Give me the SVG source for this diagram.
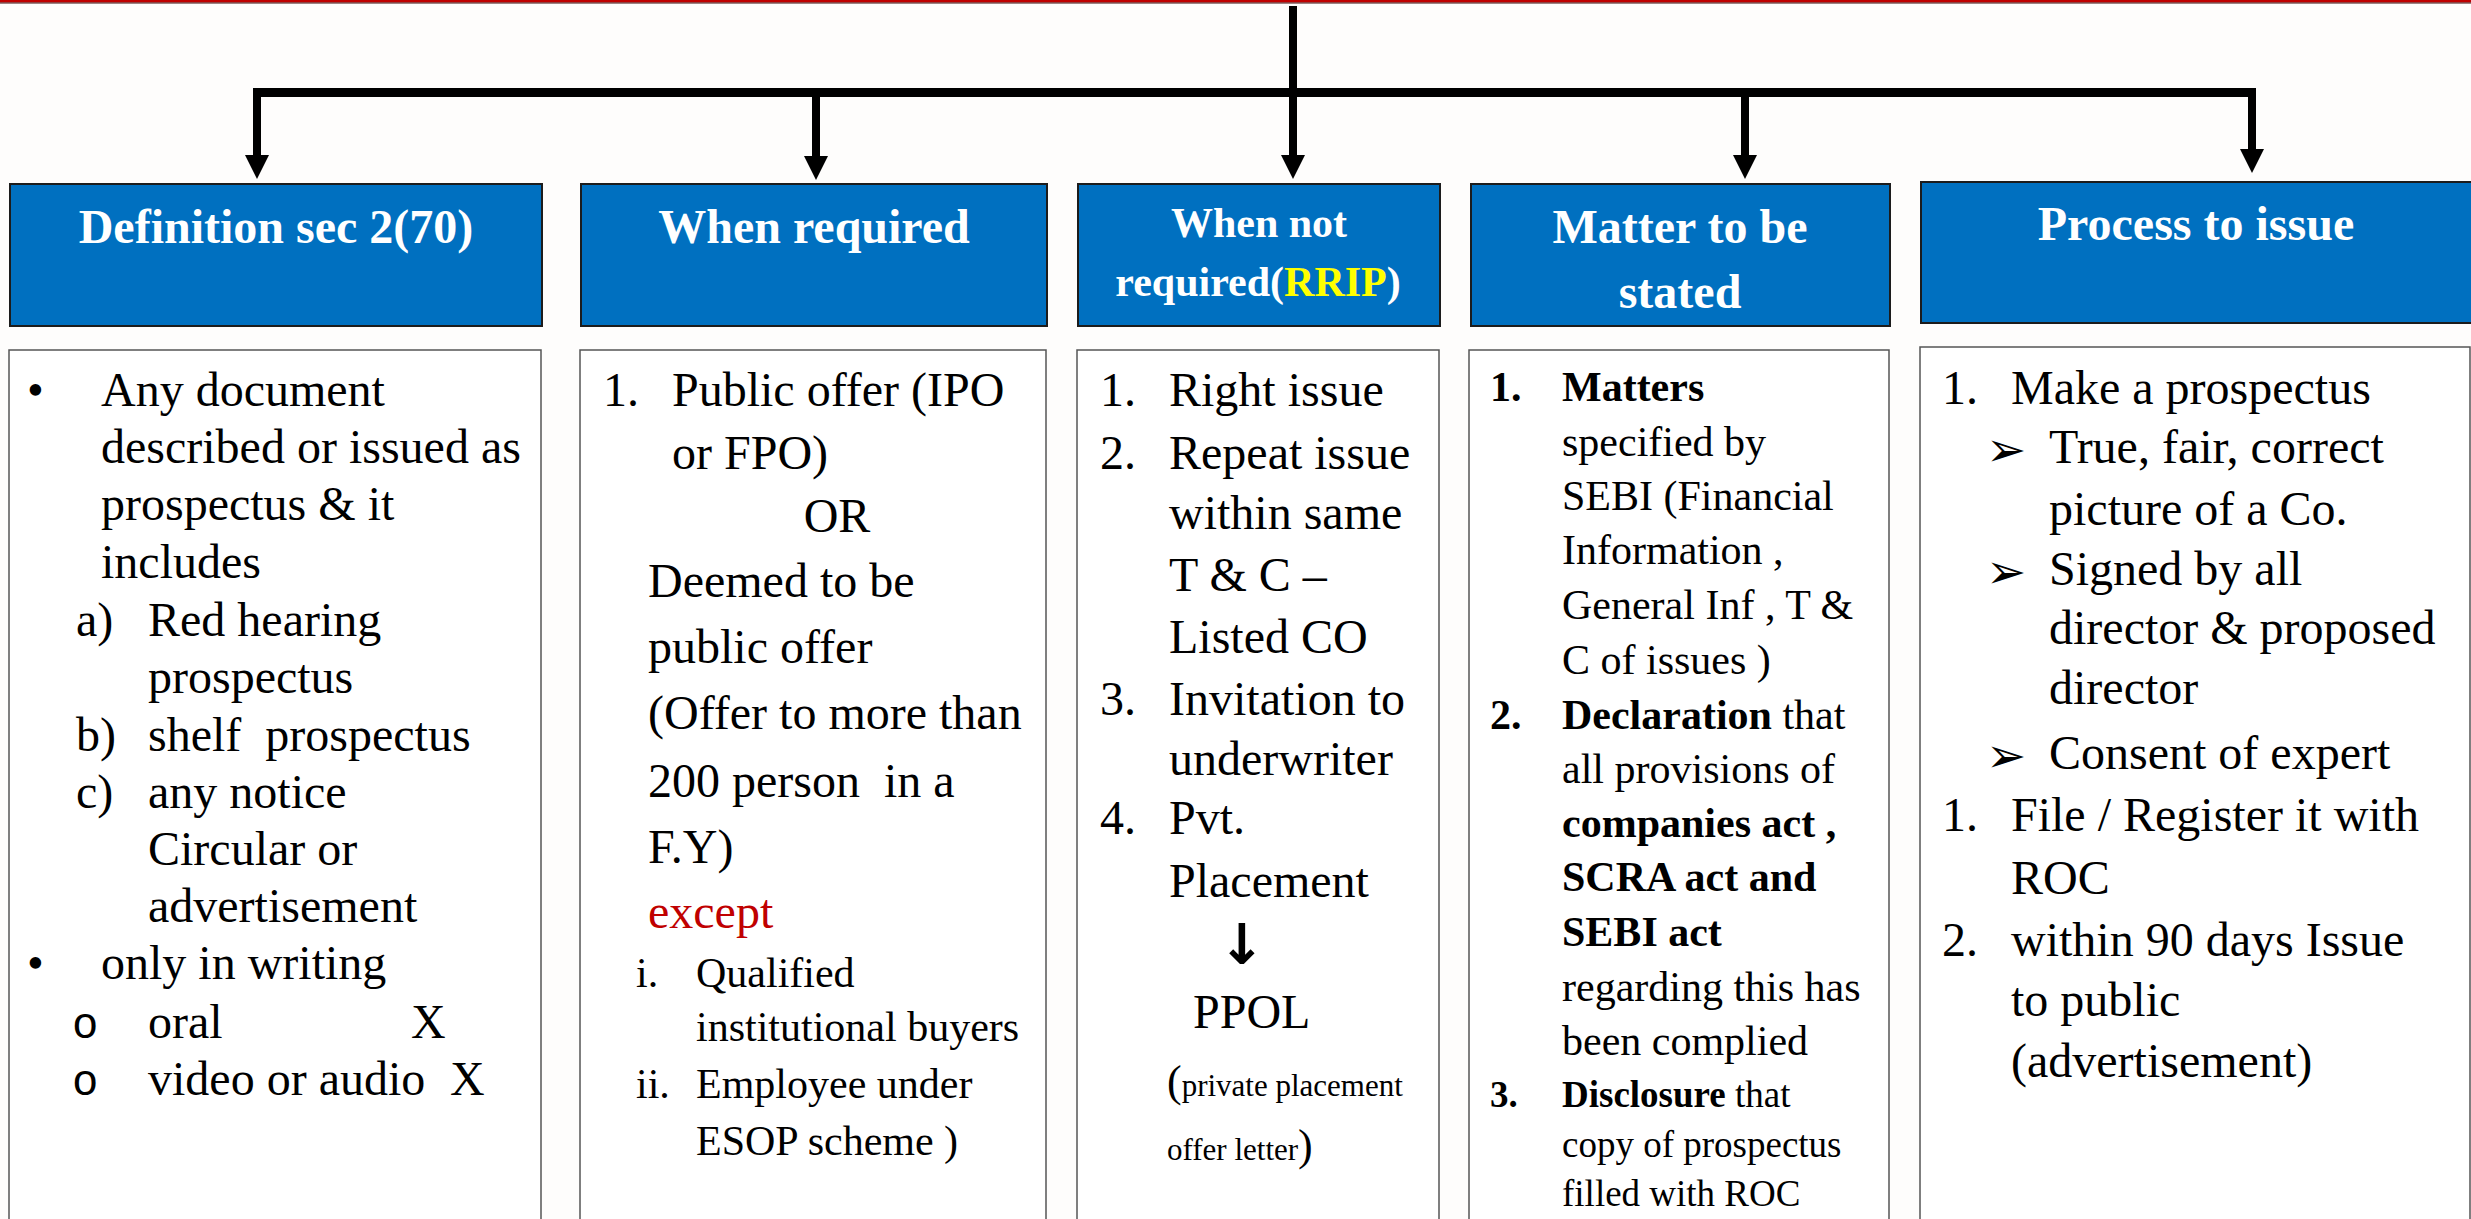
<svg xmlns="http://www.w3.org/2000/svg" width="2471" height="1219" viewBox="0 0 2471 1219">
  <style>
    .hdr { fill: #0070C0; stroke: #1c1c1c; stroke-width: 2; }
    .body { fill: #ffffff; stroke: #555555; stroke-width: 1.5; }
    .ht { font-family: "Liberation Serif", "Times New Roman", serif; font-weight: bold; font-size: 48px; fill: #ffffff; text-anchor: middle; }
    .ht42 { font-size: 42px; }
    .t { font-family: "Liberation Serif", "Times New Roman", serif; font-size: 48px; fill: #000000; }
    .s42 { font-size: 42px; }
    .s37 { font-size: 37px; }
    .s31 { font-size: 31px; }
    .b { font-weight: bold; }
    .red { fill: #C00000; }
    .yel { fill: #FFFF00; }
    .circ { font-family: "Liberation Mono", "Courier New", monospace; font-size: 44px; fill: #000000; }
    .arw { font-family: "DejaVu Sans", sans-serif; font-size: 48px; fill: #000000; }
    .down { font-family: "DejaVu Sans", sans-serif; font-weight: bold; font-size: 56px; fill: #000000; text-anchor: middle; }
    .conn { stroke: #000000; fill: none; }
  </style>
  <defs>
    <marker id="head" markerUnits="userSpaceOnUse" markerWidth="24" markerHeight="24" refX="0" refY="12" orient="auto">
      <path d="M0,0 L24,12 L0,24 z" fill="#000000"/>
    </marker>
  </defs>

  <!-- page -->
  <rect x="0" y="0" width="2471" height="1219" fill="#FEFDFC"/>
  <rect x="0" y="0" width="2471" height="2.5" fill="#C00000"/>
  <rect x="0" y="2.5" width="2471" height="1" fill="#3a0a0a"/>

  <!-- connectors -->
  <g id="connectors" class="conn">
    <path d="M1293,6 V155" stroke-width="8" marker-end="url(#head)"/>
    <path d="M253,92.5 H2256" stroke-width="9"/>
    <path d="M257,88 V155" stroke-width="8" marker-end="url(#head)"/>
    <path d="M816,92 V156" stroke-width="8" marker-end="url(#head)"/>
    <path d="M1745,92 V155" stroke-width="8" marker-end="url(#head)"/>
    <path d="M2252,88 V149" stroke-width="8" marker-end="url(#head)"/>
  </g>

  <!-- Definition -->
  <g id="definition">
    <rect class="hdr" x="10" y="184" width="532" height="142"/>
    <text class="ht" x="276" y="243">Definition sec 2(70)</text>
    <rect class="body" x="9" y="350" width="532" height="880"/>
    <text class="t" x="27" y="406">•</text>
    <text class="t" x="101" y="406">Any document</text>
    <text class="t" x="101" y="463">described or issued as</text>
    <text class="t" x="101" y="520">prospectus &amp; it</text>
    <text class="t" x="101" y="578">includes</text>
    <text class="t" x="76" y="636">a)</text>
    <text class="t" x="148" y="636">Red hearing</text>
    <text class="t" x="148" y="693">prospectus</text>
    <text class="t" x="76" y="751">b)</text>
    <text class="t" x="148" y="751" xml:space="preserve">shelf  prospectus</text>
    <text class="t" x="76" y="808">c)</text>
    <text class="t" x="148" y="808">any notice</text>
    <text class="t" x="148" y="865">Circular or</text>
    <text class="t" x="148" y="922">advertisement</text>
    <text class="t" x="27" y="979">•</text>
    <text class="t" x="101" y="979">only in writing</text>
    <text class="circ" x="72" y="1038">o</text>
    <text class="t" x="148" y="1038">oral</text>
    <text class="t" x="411" y="1038">X</text>
    <text class="circ" x="72" y="1095">o</text>
    <text class="t" x="148" y="1095">video or audio</text>
    <text class="t" x="450" y="1095">X</text>
  </g>

  <!-- When required -->
  <g id="when-required">
    <rect class="hdr" x="581" y="184" width="466" height="142"/>
    <text class="ht" x="814" y="243">When required</text>
    <rect class="body" x="580" y="350" width="466" height="880"/>
    <text class="t" x="603" y="406">1.</text>
    <text class="t" x="672" y="406">Public offer (IPO</text>
    <text class="t" x="672" y="469">or FPO)</text>
    <text class="t" x="837" y="532" text-anchor="middle">OR</text>
    <text class="t" x="648" y="597">Deemed to be</text>
    <text class="t" x="648" y="663">public offer</text>
    <text class="t" x="648" y="729">(Offer to more than</text>
    <text class="t" x="648" y="797" xml:space="preserve">200 person  in a</text>
    <text class="t" x="648" y="863">F.Y)</text>
    <text class="t red" x="648" y="928">except</text>
    <text class="t s42" x="636" y="987">i.</text>
    <text class="t s42" x="696" y="987">Qualified</text>
    <text class="t s42" x="696" y="1041">institutional buyers</text>
    <text class="t s42" x="636" y="1098">ii.</text>
    <text class="t s42" x="696" y="1098">Employee under</text>
    <text class="t s42" x="696" y="1155">ESOP scheme )</text>
  </g>

  <!-- When not required -->
  <g id="when-not-required">
    <rect class="hdr" x="1078" y="184" width="362" height="142"/>
    <text class="ht ht42" x="1259" y="237">When not</text>
    <text class="ht ht42" x="1258" y="296">required(<tspan class="yel">RRIP</tspan>)</text>
    <rect class="body" x="1077" y="350" width="362" height="880"/>
    <text class="t" x="1100" y="406">1.</text>
    <text class="t" x="1169" y="406">Right issue</text>
    <text class="t" x="1100" y="469">2.</text>
    <text class="t" x="1169" y="469">Repeat issue</text>
    <text class="t" x="1169" y="529">within same</text>
    <text class="t" x="1169" y="591">T &amp; C –</text>
    <text class="t" x="1169" y="653">Listed CO</text>
    <text class="t" x="1100" y="715">3.</text>
    <text class="t" x="1169" y="715">Invitation to</text>
    <text class="t" x="1169" y="775">underwriter</text>
    <text class="t" x="1100" y="834">4.</text>
    <text class="t" x="1169" y="834">Pvt.</text>
    <text class="t" x="1169" y="897">Placement</text>
    <text class="down" x="1242" y="964">↓</text>
    <text class="t" x="1193" y="1028">PPOL</text>
    <text class="t s31" x="1167" y="1096"><tspan font-size="44">(</tspan>private placement</text>
    <text class="t s31" x="1167" y="1160">offer letter<tspan font-size="44">)</tspan></text>
  </g>

  <!-- Matter to be stated -->
  <g id="matter-to-be-stated">
    <rect class="hdr" x="1471" y="184" width="419" height="142"/>
    <text class="ht" x="1680" y="243">Matter to be</text>
    <text class="ht" x="1680" y="308">stated</text>
    <rect class="body" x="1469" y="350" width="420" height="880"/>
    <text class="t s42 b" x="1490" y="401">1.</text>
    <text class="t s42 b" x="1562" y="401">Matters</text>
    <text class="t s42" x="1562" y="456">specified by</text>
    <text class="t s42" x="1562" y="510">SEBI (Financial</text>
    <text class="t s42" x="1562" y="564">Information ,</text>
    <text class="t s42" x="1562" y="619">General Inf , T &amp;</text>
    <text class="t s42" x="1562" y="674">C of issues )</text>
    <text class="t s42 b" x="1490" y="729">2.</text>
    <text class="t s42" x="1562" y="729"><tspan class="b">Declaration</tspan> that</text>
    <text class="t s42" x="1562" y="783">all provisions of</text>
    <text class="t s42 b" x="1562" y="837">companies act ,</text>
    <text class="t s42 b" x="1562" y="891">SCRA act and</text>
    <text class="t s42 b" x="1562" y="946">SEBI act</text>
    <text class="t s42" x="1562" y="1001">regarding this has</text>
    <text class="t s42" x="1562" y="1055">been complied</text>
    <text class="t s37 b" x="1490" y="1107">3.</text>
    <text class="t s37" x="1562" y="1107"><tspan class="b">Disclosure</tspan> that</text>
    <text class="t s37" x="1562" y="1157">copy of prospectus</text>
    <text class="t s37" x="1562" y="1206">filled with ROC</text>
  </g>

  <!-- Process to issue -->
  <g id="process-to-issue">
    <rect class="hdr" x="1921" y="182" width="560" height="141"/>
    <text class="ht" x="2196" y="240">Process to issue</text>
    <rect class="body" x="1920" y="347" width="550" height="890"/>
    <text class="t" x="1942" y="404">1.</text>
    <text class="t" x="2011" y="404">Make a prospectus</text>
    <text class="arw" x="1986" y="466">➢</text>
    <text class="t" x="2049" y="463">True, fair, correct</text>
    <text class="t" x="2049" y="525">picture of a Co.</text>
    <text class="arw" x="1986" y="588">➢</text>
    <text class="t" x="2049" y="585">Signed by all</text>
    <text class="t" x="2049" y="644">director &amp; proposed</text>
    <text class="t" x="2049" y="704">director</text>
    <text class="arw" x="1986" y="772">➢</text>
    <text class="t" x="2049" y="769">Consent of expert</text>
    <text class="t" x="1942" y="831">1.</text>
    <text class="t" x="2011" y="831">File / Register it with</text>
    <text class="t" x="2011" y="894">ROC</text>
    <text class="t" x="1942" y="956">2.</text>
    <text class="t" x="2011" y="956">within 90 days Issue</text>
    <text class="t" x="2011" y="1016">to public</text>
    <text class="t" x="2011" y="1077">(advertisement)</text>
  </g>
</svg>
